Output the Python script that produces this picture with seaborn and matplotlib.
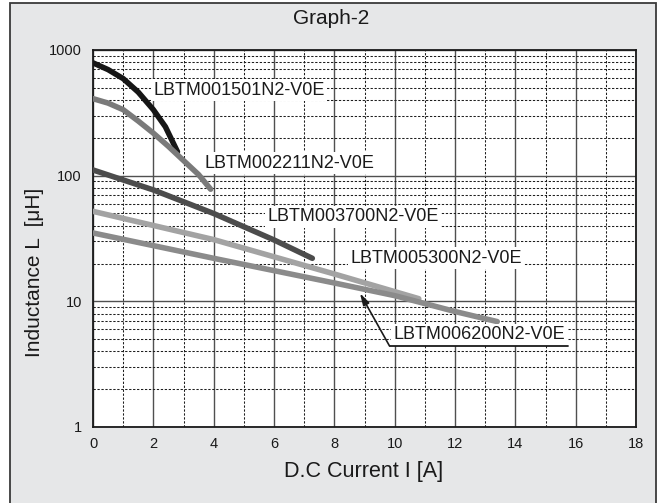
import matplotlib
matplotlib.use("Agg")
import matplotlib.pyplot as plt
import seaborn as sns
import pandas as pd
from matplotlib.patches import Rectangle
from matplotlib.ticker import FixedLocator, NullFormatter, LogLocator

# ---- data ----
models = ["LBTM001501N2-V0E", "LBTM002211N2-V0E", "LBTM003700N2-V0E",
          "LBTM005300N2-V0E", "LBTM006200N2-V0E"]

c1_current = [0, 0.5, 1, 1.5, 2, 2.4, 2.8]
c1_induct = [790, 698, 592, 462, 335, 245, 155]

c2_current = [0, 0.5, 1, 1.5, 2, 2.5, 3, 3.5, 3.9]
c2_induct = [410, 378, 335, 272, 218, 171, 132, 102, 78]

c3_current = [0, 2, 4, 6, 7.27]
c3_induct = [111, 77, 50, 30.8, 22]

c4_current = [0, 4, 8, 10.8]
c4_induct = [52, 31, 16.5, 10.5]

c5_current = [0, 4, 8, 10, 12, 13.4]
c5_induct = [35, 22, 14.0, 11.1, 8.3, 6.9]

x_ticks = [0, 2, 4, 6, 8, 10, 12, 14, 16, 18]
y_ticks = [1, 10, 100, 1000]
y_tick_labels = ["1", "10", "100", "1000"]

colors = ["#161616", "#7a7a7a", "#4c4c4c", "#a3a3a3", "#8b8b8b"]

# label anchor (left, centre) positions in data units
label_x = [2.0, 3.7, 5.77, 8.53, 9.96]
label_y = [480, 126, 47, 22.1, 5.4]

all_x = [c1_current, c2_current, c3_current, c4_current, c5_current]
all_y = [c1_induct, c2_induct, c3_induct, c4_induct, c5_induct]
rows = []
for name, xs, ys in zip(models, all_x, all_y):
    for i, (xv, yv) in enumerate(zip(xs, ys)):
        rows.append({"model": name, "current": xv, "inductance": yv, "order": i})
df = pd.DataFrame(rows)

sns.set_style("white")
plt.rcParams["font.family"] = ["Liberation Sans", "DejaVu Sans"]

fig = plt.figure(figsize=(6.62, 5.03), dpi=100)
fig.patch.set_facecolor("white")
frame = Rectangle((10 / 662, -0.02), 646 / 662, 1.02 - 3 / 503,
                  transform=fig.transFigure, facecolor="#e6e7e8",
                  edgecolor="#3a3a3a", lw=1.3, zorder=-5)
fig.add_artist(frame)

ax = fig.add_axes([93 / 662, 76 / 503, 543 / 662, 377 / 503])
ax.set_facecolor("white")

sns.lineplot(data=df, x="current", y="inductance", hue="model",
             palette=dict(zip(models, colors)), hue_order=models,
             sort=False, estimator=None, units="model", lw=4.0,
             legend=False, ax=ax, zorder=3)
for ln in ax.lines:
    ln.set_solid_capstyle("round")
    ln.set_solid_joinstyle("round")

ax.set_yscale("log")
ax.set_xlim(0, 18)
ax.set_ylim(1, 1000)

ax.xaxis.set_major_locator(FixedLocator(x_ticks))
ax.xaxis.set_minor_locator(FixedLocator(list(range(1, 18, 2))))
ax.set_xticklabels([str(t) for t in x_ticks])
ax.yaxis.set_major_locator(FixedLocator(y_ticks))
ax.yaxis.set_minor_locator(LogLocator(base=10, subs=[2, 3, 4, 5, 6, 7, 8, 9]))
ax.yaxis.set_minor_formatter(NullFormatter())
ax.set_yticklabels(y_tick_labels)

ax.set_axisbelow(True)
ax.grid(which="major", color="#505050", lw=1.0, ls="-")
ax.grid(which="minor", color="#1e1e1e", lw=0.75, ls=(0, (2.2, 1.6)))
ax.tick_params(which="both", length=0, labelsize=10.5, colors="#1a1a1a")
ax.tick_params(axis="x", pad=7)
ax.tick_params(axis="y", pad=8)
for sp in ax.spines.values():
    sp.set_color("#1a1a1a")
    sp.set_linewidth(1.3)

ax.set_xlabel("")
ax.set_ylabel("")

for name, lx, ly in zip(models, label_x, label_y):
    ax.text(lx, ly, name, fontsize=13, ha="left", va="center", color="#1a1a1a",
            bbox=dict(facecolor="white", edgecolor="none", pad=1.5), zorder=6)

# leader line + underline for last label
under_x = [9.83, 15.73]
under_y = [4.41, 4.41]
ax.plot(under_x, under_y, color="#1a1a1a", lw=1.3, zorder=7)
ax.annotate("", xy=(8.85, 11.6), xytext=(under_x[0], under_y[0]),
            arrowprops=dict(arrowstyle="-|>,head_length=0.7,head_width=0.2",
                            color="#1a1a1a", lw=1.2, shrinkA=0, shrinkB=0),
            zorder=7)

fig.text(0.5, 1 - 18 / 503, "Graph-2", fontsize=15, ha="center", va="center",
         color="#1a1a1a")
fig.text(364 / 662, 1 - 472 / 503, "D.C Current I [A]", fontsize=15.5,
         ha="center", va="center", color="#1a1a1a")
fig.text(35 / 662, 1 - 272 / 503, "Inductance L  [μH]", fontsize=15,
         ha="center", va="center", rotation=90, color="#1a1a1a")

fig.savefig("out.png", dpi=100)
